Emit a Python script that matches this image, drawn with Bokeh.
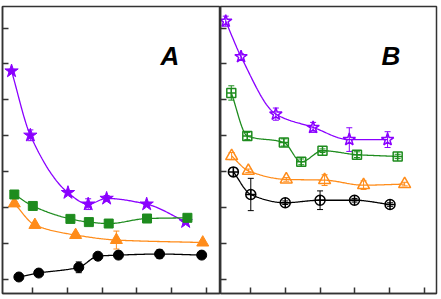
import numpy as np
from bokeh.plotting import figure
from bokeh.layouts import row
from bokeh.models import (FixedTicker, Range1d, Whisker, ColumnDataSource, Label,
                          TeeHead, CustomLabelingPolicy)
from bokeh.embed import file_html
from bokeh.resources import INLINE

# ---------------- data (arbitrary units) ----------------
x_ticks = [1, 2, 3, 4, 5, 6]
y_ticks = [1, 2, 3, 4, 5, 6, 7, 8]

# Panel A
a_black_x = [0.61, 1.18, 2.33, 2.88, 3.47, 4.65, 5.86]
a_black_y = [1.06, 1.17, 1.33, 1.64, 1.67, 1.70, 1.67]
a_black_e = [0.03, 0.03, 0.15, 0.05, 0.03, 0.12, 0.03]

a_orange_x = [0.48, 1.07, 2.24, 3.41, 5.89]
a_orange_y = [3.11, 2.51, 2.23, 2.09, 2.02]
a_orange_e = [0.05, 0.05, 0.05, 0.25, 0.05]

a_green_x = [0.48, 1.01, 2.09, 2.62, 3.19, 4.29, 5.45]
a_green_y = [3.36, 3.04, 2.68, 2.59, 2.55, 2.69, 2.71]
a_green_e = [0.05, 0.05, 0.05, 0.05, 0.05, 0.05, 0.05]

a_purple_x = [0.40, 0.94, 2.02, 2.60, 3.13, 4.28, 5.40]
a_purple_y = [6.80, 5.01, 3.41, 3.09, 3.25, 3.09, 2.60]
a_purple_e = [0.05, 0.15, 0.05, 0.15, 0.08, 0.05, 0.05]

# Panel B
b_black_x = [0.51, 1.01, 2.00, 3.00, 3.99, 5.01]
b_black_y = [3.99, 3.36, 3.13, 3.20, 3.20, 3.08]
b_black_e = [0.12, 0.45, 0.05, 0.26, 0.05, 0.05]

b_orange_x = [0.46, 0.94, 2.03, 3.13, 4.25, 5.43]
b_orange_y = [4.43, 4.02, 3.78, 3.76, 3.62, 3.65]
b_orange_e = [0.10, 0.05, 0.05, 0.15, 0.12, 0.05]

b_green_x = [0.45, 0.91, 1.96, 2.46, 3.07, 4.06, 5.23]
b_green_y = [6.19, 4.99, 4.81, 4.27, 4.58, 4.47, 4.42]
b_green_e = [0.20, 0.10, 0.10, 0.08, 0.05, 0.08, 0.06]

b_purple_x = [0.29, 0.73, 1.73, 2.80, 3.84, 4.94]
b_purple_y = [8.19, 7.20, 5.60, 5.23, 4.89, 4.89]
b_purple_e = [0.14, 0.08, 0.17, 0.14, 0.33, 0.22]

BLACK = "#000000"
ORANGE = "#ff8c1a"
GREEN = "#1e8c1e"
PURPLE = "#8a00ff"
FRAME = "#333333"

HIDE_LABELS_JS = """
try {
  for (let i = 0; i < indices.size; i++) { indices.unset(i) }
} catch (e) {}
return indices
"""


def pchip(x, y, n=160):
    x = np.asarray(x, float)
    y = np.asarray(y, float)
    h = np.diff(x)
    d = np.diff(y) / h
    m = np.zeros_like(y)
    m[0] = d[0]
    m[-1] = d[-1]
    for k in range(1, len(x) - 1):
        if d[k - 1] * d[k] <= 0:
            m[k] = 0.0
        else:
            w1 = 2 * h[k] + h[k - 1]
            w2 = h[k] + 2 * h[k - 1]
            m[k] = (w1 + w2) / (w1 / d[k - 1] + w2 / d[k])
    xs = np.linspace(x[0], x[-1], n)
    idx = np.clip(np.searchsorted(x, xs, side="right") - 1, 0, len(x) - 2)
    t = (xs - x[idx]) / h[idx]
    h00 = 2 * t**3 - 3 * t**2 + 1
    h10 = t**3 - 2 * t**2 + t
    h01 = -2 * t**3 + 3 * t**2
    h11 = t**3 - t**2
    ys = h00 * y[idx] + h10 * h[idx] * m[idx] + h01 * y[idx + 1] + h11 * h[idx] * m[idx + 1]
    return xs, ys


def make_panel(x_end, frame_w, left_border, right_border):
    p = figure(frame_width=frame_w, frame_height=287,
               x_range=Range1d(0.14, x_end), y_range=Range1d(0.6, 8.6),
               output_backend="svg", toolbar_location=None,
               min_border_left=left_border, min_border_right=right_border,
               min_border_top=6, min_border_bottom=6)
    p.grid.visible = False
    p.background_fill_color = "white"
    p.border_fill_color = "white"
    p.outline_line_color = FRAME
    p.outline_line_width = 1.5
    p.xaxis.ticker = FixedTicker(ticks=x_ticks)
    p.yaxis.ticker = FixedTicker(ticks=y_ticks)
    for ax in p.axis:
        ax.major_tick_in = 6
        ax.major_tick_out = 0
        ax.minor_tick_in = 0
        ax.minor_tick_out = 0
        ax.major_label_text_font_size = "0px"
        ax.major_label_standoff = 0
        ax.major_label_policy = CustomLabelingPolicy(code=HIDE_LABELS_JS)
        ax.axis_line_color = FRAME
        ax.axis_line_width = 1.5
        ax.major_tick_line_color = FRAME
        ax.major_tick_line_width = 1.5
    return p


def add_series(p, xs, ys, es, color, marker, size, filled, lw=1.3):
    cx, cy = pchip(xs, ys)
    p.line(cx, cy, line_color=color, line_width=lw)
    src = ColumnDataSource(dict(x=xs, lo=[a - b for a, b in zip(ys, es)],
                                hi=[a + b for a, b in zip(ys, es)]))
    p.add_layout(Whisker(source=src, base="x", lower="lo", upper="hi",
                         line_color=color, line_width=1,
                         lower_head=TeeHead(size=6, line_color=color, line_width=1),
                         upper_head=TeeHead(size=6, line_color=color, line_width=1)))
    if filled:
        p.scatter(xs, ys, marker=marker, size=size, fill_color=color,
                  line_color=color, line_width=1)
    else:
        p.scatter(xs, ys, marker=marker, size=size, fill_color="white",
                  fill_alpha=0, line_color=color, line_width=1.5)


pa = make_panel(6.40, 218, 2, 0)
add_series(pa, a_black_x, a_black_y, a_black_e, BLACK, "circle", 10, True)
add_series(pa, a_orange_x, a_orange_y, a_orange_e, ORANGE, "triangle", 12, True)
add_series(pa, a_purple_x, a_purple_y, a_purple_e, PURPLE, "star", 14, True)
add_series(pa, a_green_x, a_green_y, a_green_e, GREEN, "square", 9, True)
pa.add_layout(Label(x=158, y=223, x_units="screen", y_units="screen", text="A",
                    text_font="Liberation Sans", text_font_style="bold italic",
                    text_font_size="26px", text_color="black"))

pb = make_panel(6.345, 216, 0, 5)
add_series(pb, b_black_x, b_black_y, b_black_e, BLACK, "circle_cross", 10, False)
add_series(pb, b_orange_x, b_orange_y, b_orange_e, ORANGE, "triangle", 12, False)
add_series(pb, b_green_x, b_green_y, b_green_e, GREEN, "square_cross", 9, False)
add_series(pb, b_purple_x, b_purple_y, b_purple_e, PURPLE, "star", 13, False)
pb.add_layout(Label(x=161, y=223, x_units="screen", y_units="screen", text="B",
                    text_font="Liberation Sans", text_font_style="bold italic",
                    text_font_size="26px", text_color="black"))

layout = row(pa, pb, spacing=0)
open("out.html", "w").write(file_html(layout, INLINE))
